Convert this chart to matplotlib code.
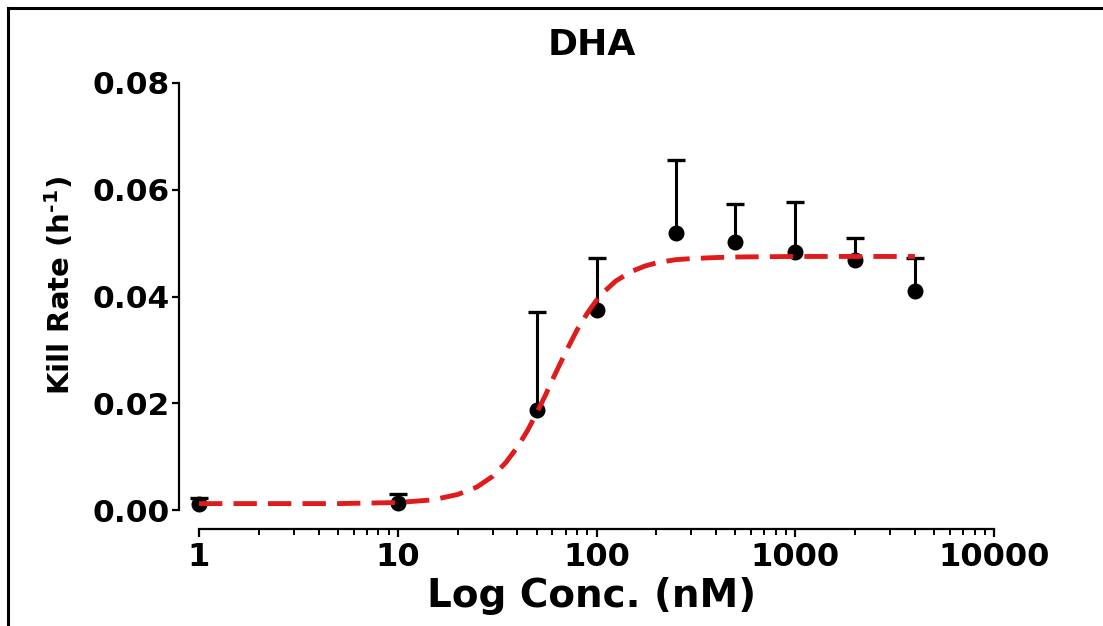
import numpy as np
import matplotlib
matplotlib.use("Agg")
import matplotlib.pyplot as plt
from matplotlib.lines import Line2D
from matplotlib.ticker import FixedLocator, FuncFormatter

# ---- data ----
conc = [1, 10, 50, 100, 250, 500, 1000, 2000, 4000]            # nM
kill_rate = [0.0012, 0.0013, 0.0187, 0.0375, 0.0519, 0.0502, 0.0483, 0.0468, 0.0410]
err_upper = [0.0010, 0.0017, 0.0184, 0.0097, 0.0137, 0.0071, 0.0094, 0.0042, 0.0062]

# fitted curve
curve_conc = [1, 5, 10, 15, 20, 25, 30, 35, 40, 45, 50, 55, 60, 65, 70, 80, 90, 100,
              110, 125, 150, 175, 200, 250, 300, 400, 500, 1000, 2000, 4000]
curve_rate = [0.0012, 0.0012, 0.0014, 0.0019, 0.0029, 0.0043, 0.0063, 0.0089, 0.0118,
              0.0149, 0.0182, 0.0213, 0.0244, 0.0271, 0.0296, 0.0338, 0.0369, 0.0393,
              0.0410, 0.0429, 0.0447, 0.0457, 0.0463, 0.0469, 0.0471, 0.0473, 0.0474,
              0.0475, 0.0475, 0.0475]

y_ticks = [0.00, 0.02, 0.04, 0.06, 0.08]
x_ticks = [1, 10, 100, 1000, 10000]
x_tick_labels = ["1", "10", "100", "1000", "10000"]

title = "DHA"
x_label = "Log Conc. (nM)"
y_label = "Kill Rate (h$^{\\text{-1}}$)"

# ---- figure ----
W, H = 1103, 626
plt.rcParams['font.family'] = ['DejaVu Sans']
plt.rcParams['font.weight'] = 'bold'
plt.rcParams['mathtext.fontset'] = 'custom'
plt.rcParams['mathtext.rm'] = 'DejaVu Sans:bold'
plt.rcParams['mathtext.bf'] = 'DejaVu Sans:bold'
plt.rcParams['mathtext.it'] = 'DejaVu Sans:bold'

fig = plt.figure(figsize=(W / 100, H / 100), dpi=100)

def px(x, y):
    return x / W, 1 - y / H

ax_left, ax_right = 179, 994
ax_top, ax_bottom = 83, 529
ax = fig.add_axes([ax_left / W, 1 - ax_bottom / H, (ax_right - ax_left) / W, (ax_bottom - ax_top) / H])

# y scale: 0.00 at 510 px, 0.08 at 83 px
ppu = (510 - 83) / 0.08
ax.set_ylim(-(ax_bottom - 510) / ppu, 0.08)
decade = (994 - 199) / 4
ax.set_xscale('log')
ax.set_xlim(10 ** (-(199 - ax_left) / decade), 10000)

err_top = [v + e for v, e in zip(kill_rate, err_upper)]
ax.vlines(conc, kill_rate, err_top, colors='black', lw=2.2, zorder=2)
ax.plot(conc, err_top, linestyle='none', marker='_', markersize=12.5, mew=2.4, color='black', zorder=2)
ax.plot(conc, kill_rate, 'o', color='black', markersize=10.5, zorder=3)
ax.plot(curve_conc, curve_rate, color='#e01b1b', lw=3.5, dashes=(4.8, 2.3), zorder=4,
        dash_capstyle='butt')

for s in ['top', 'right']:
    ax.spines[s].set_visible(False)
ax.spines['left'].set_bounds(0, 0.08)
ax.spines['bottom'].set_bounds(1, 10000)
for s in ['left', 'bottom']:
    ax.spines[s].set_linewidth(1.6)

ax.yaxis.set_major_locator(FixedLocator(y_ticks))
ax.yaxis.set_major_formatter(FuncFormatter(lambda v, p: f"{v:.2f}"))
ax.xaxis.set_major_locator(FixedLocator(x_ticks))
ax.set_xticklabels(x_tick_labels)
minor = [m * 10 ** d for d in range(4) for m in range(2, 10)]
ax.xaxis.set_minor_locator(FixedLocator(minor))
ax.xaxis.set_minor_formatter(plt.NullFormatter())

ax.tick_params(axis='y', which='major', length=5, width=1.6, pad=2, labelsize=22.5)
ax.tick_params(axis='x', which='major', length=6, width=1.6, pad=3, labelsize=23)
ax.tick_params(axis='x', which='minor', length=4, width=1.4)
for lab in ax.get_xticklabels() + ax.get_yticklabels():
    lab.set_fontweight('bold')

fig.text(*px(592, 45), title, ha='center', va='center', fontsize=26, fontweight='bold')
fig.text(*px(592, 596), x_label, ha='center', va='center', fontsize=28, fontweight='bold')
fig.text(*px(60, 285), y_label, ha='center', va='center', rotation=90, fontsize=21, fontweight='bold')

# frame around the picture
fig.add_artist(Line2D([8 / W, 8 / W], [0, 1 - 8 / H], color='black', lw=2.2, transform=fig.transFigure))
fig.add_artist(Line2D([8 / W, 1], [1 - 8 / H, 1 - 8 / H], color='black', lw=2.2, transform=fig.transFigure))

fig.savefig('out.png', dpi=100)
